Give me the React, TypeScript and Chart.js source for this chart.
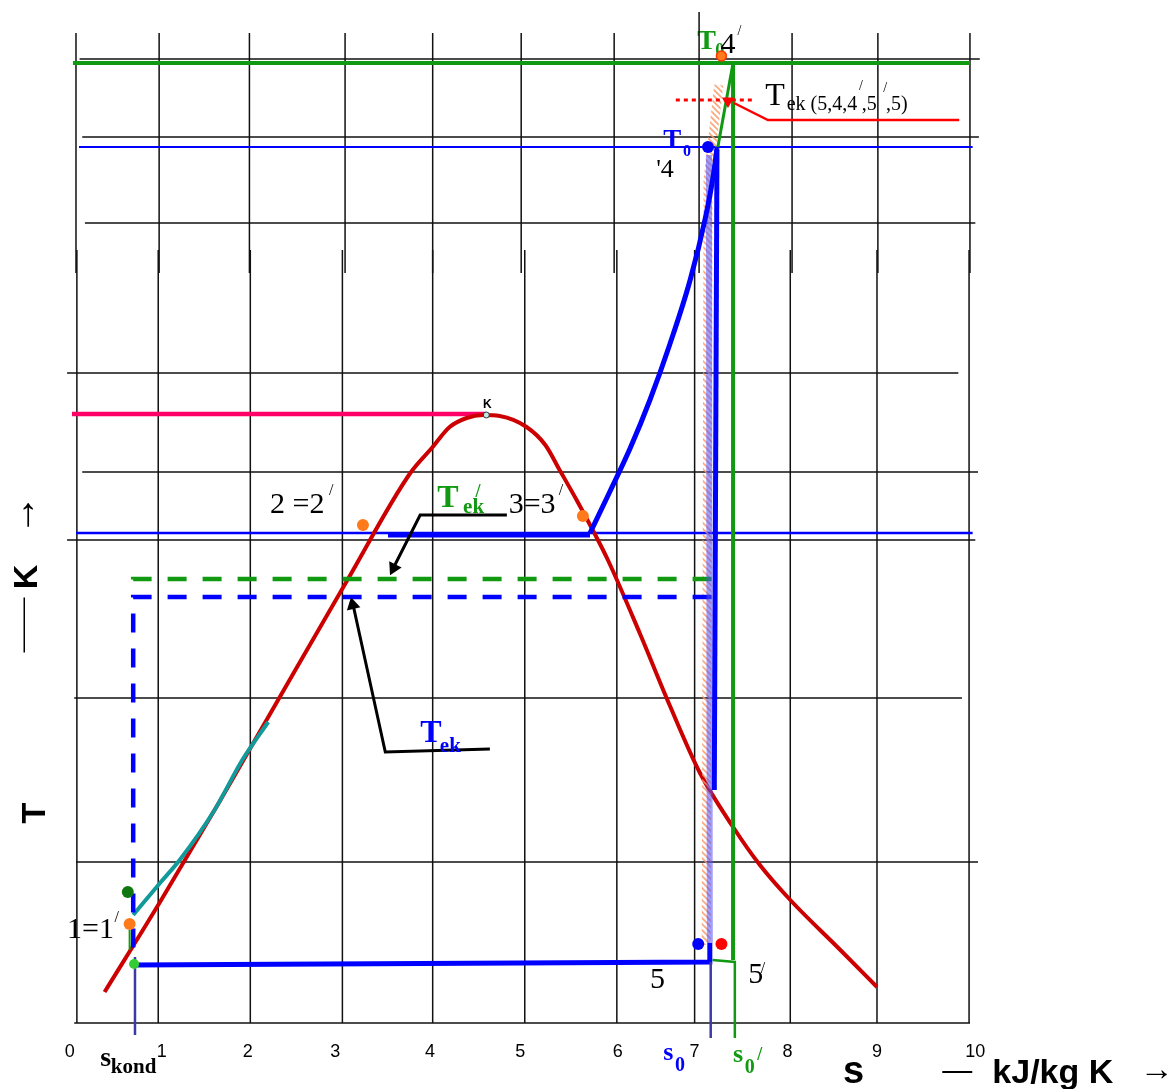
import { useEffect, useRef } from 'react';
import { Chart, registerables } from 'chart.js';

Chart.register(...registerables);

const W = 1172;
const H = 1089;

// Plot window: entropy s (kJ/kg K) across, temperature level T (relative units) up
const S_MIN = -0.85;
const S_MAX = 12.26;
const T_MIN = -6.6;
const T_MAX = 102.3;

const SERIF = '"Liberation Serif", "Times New Roman", serif';
const SANS = '"Liberation Sans", Arial, sans-serif';
const GREEN = '#119a11';
const BLUE = '#0000ff';
const DARK_BLUE = '#3b3ba5';
const RED = '#cc0000';
const PINK = '#ff0066';
const TEAL = '#129a9a';
const ORANGE = '#ff7a1a';
const BLACK = '#111111';

// s-axis labels (hand-placed under the hand-drawn grid)
const sTickLabels = ['0', '1', '2', '3', '4', '5', '6', '7', '8', '9', '10'];
const sTickPos = [-0.07, 0.96, 1.92, 2.9, 3.96, 4.97, 6.06, 6.92, 7.96, 8.96, 10.06];

// hand-drawn grid: vertical lines (upper and lower strokes) and horizontal rows
const gridColUpper = [0, 0.93, 1.94, 3.01, 3.99, 4.98, 6.02, 6.97, 8.01, 8.97, 10.0];
const gridColLower = [0.01, 0.92, 1.95, 2.98, 3.99, 5.02, 6.05, 6.92, 7.99, 8.96, 9.99];
const gridRowT = [96.4, 88.6, 80.0, 65.0, 55.1, 48.3, 32.5, 16.1, 0];
const gridRowFrom = [0.04, 0.07, 0.1, -0.1, 0.07, -0.1, -0.02, 0, -0.02];
const gridRowTo = [10.11, 10.1, 10.06, 9.87, 10.09, 10.06, 9.91, 10.09, 10.0];

// isotherm levels
const T0_PRIME = 96.0;
const T0 = 87.6;
const TK = 49.0;
const T_CRIT = 60.9;

// saturation dome
const domeS = [0.32, 0.94, 1.61, 2.28, 3.03, 3.74, 3.98, 4.18, 4.37, 4.55, 4.74, 5.04, 5.25, 5.41, 5.6, 5.78, 5.95, 6.31, 6.64, 6.98, 7.35, 7.65, 7.99, 8.55, 8.96];
const domeT = [3.1, 12.1, 22.2, 32.6, 44.2, 55.0, 57.5, 59.6, 60.5, 60.8, 60.7, 59.6, 57.8, 55.3, 52.3, 49.3, 46.3, 38.9, 31.8, 25.0, 19.6, 15.8, 12.3, 7.3, 3.6];

// liquid line
const liquidS = [0.64, 0.94, 1.16, 1.55, 1.86, 2.15];
const liquidT = [10.8, 14.0, 16.3, 21.3, 26.3, 30.1];

// evaporation plateau and superheated vapour up to T0
const plateauS = [3.49, 5.75];
const plateauT = [48.8, 48.8];
const vapourS = [5.75, 5.97, 6.2, 6.42, 6.64, 6.87, 7.04, 7.13, 7.17];
const vapourT = [49.0, 53.1, 57.5, 62.3, 67.8, 74.3, 80.5, 84.8, 87.5];

// expansion from T0 down to point 5 and the low isobar back to s_kond
const expansionS = [7.17, 7.14];
const expansionT = [87.3, 23.3];
const expansionFaintS = [7.08, 7.09];
const expansionFaintT = [86.8, 8.0];
const lowIsobarS = [7.09, 7.09, 0.64];
const lowIsobarT = [8.0, 6.1, 5.8];
const bandS = [7.19, 7.07, 7.05];
const bandT = [93.8, 84.3, 7.8];

// primed cycle (green)
const primeVertS = [7.35, 7.35];
const primeVertT = [T0_PRIME, 6.3];
const primeRiseS = [7.18, 7.35];
const primeRiseT = [T0, T0_PRIME];
const primeFootS = [7.12, 7.37, 7.37];
const primeFootT = [6.3, 6.1, -1.5];
const primeStubS = [0.6, 0.6];
const primeStubT = [9.3, 7.3];

// T_ek levels (dashed)
const tekBlueS = [7.11, 0.64, 0.64];
const tekBlueT = [42.6, 42.6, 5.8];
const tekGreenS = [7.11, 0.64, 0.64];
const tekGreenT = [44.4, 44.4, 43.1];

// s_kond and s_0 markers
const sKondS = [0.66, 0.66];
const sKondT = [6.6, -1.2];
const s0S = [7.1, 7.1];
const s0T = [6.1, -1.5];

// leader lines
const tekMixDotS = [6.71, 7.56];
const tekMixDotT = [92.3, 92.3];
const tekMixLeadS = [9.88, 7.74, 7.36];
const tekMixLeadT = [90.3, 90.3, 92.0];
const tekPrimeLeadS = [4.82, 3.85, 3.55];
const tekPrimeLeadT = [50.8, 50.8, 45.5];
const tekLeadS = [4.63, 3.46, 3.1];
const tekLeadT = [27.4, 27.1, 41.8];

const pts = (s: number[], t: number[]) => s.map((v, i) => ({ x: v, y: t[i] }));

type Label = {
  text: string;
  s: number;
  t: number;
  font: string;
  color?: string;
  align?: CanvasTextAlign;
  base?: CanvasTextBaseline;
  rot?: number;
  sx?: number;
  below?: boolean;
};

const LABELS: Label[] = [
  { text: 'T', s: 6.95, t: 97.4, font: `bold 28px ${SERIF}`, color: GREEN, below: true },
  { text: '0', s: 7.15, t: 96.7, font: `bold 18px ${SERIF}`, color: GREEN, below: true },
  { text: '4', s: 7.21, t: 97.0, font: `30px ${SERIF}` },
  { text: '/', s: 7.4, t: 98.8, font: `14px ${SERIF}` },
  { text: 'T', s: 7.71, t: 91.8, font: `32px ${SERIF}` },
  { text: 'ek (5,4,4', s: 7.95, t: 91.3, font: `20px ${SERIF}` },
  { text: '/', s: 8.76, t: 93.3, font: `14px ${SERIF}` },
  { text: ',5', s: 8.79, t: 91.3, font: `20px ${SERIF}` },
  { text: '/', s: 9.03, t: 93.1, font: `14px ${SERIF}` },
  { text: ',5)', s: 9.06, t: 91.3, font: `20px ${SERIF}` },
  { text: 'T', s: 6.57, t: 87.5, font: `bold 27px ${SERIF}`, color: BLUE },
  { text: '0', s: 6.79, t: 86.7, font: `bold 16px ${SERIF}`, color: BLUE },
  { text: "'4", s: 6.49, t: 84.6, font: `26px ${SERIF}` },
  { text: 'K', s: 4.6, t: 61.5, font: `bold 12px ${SANS}`, align: 'center' },
  { text: '2 =2', s: 2.17, t: 51.0, font: `30px ${SERIF}` },
  { text: '/', s: 2.83, t: 52.8, font: `16px ${SERIF}` },
  { text: 'T', s: 4.04, t: 51.6, font: `bold 32px ${SERIF}`, color: GREEN },
  { text: 'ek', s: 4.33, t: 51.0, font: `bold 21px ${SERIF}`, color: GREEN },
  { text: '/', s: 4.47, t: 52.6, font: `bold 18px ${SERIF}`, color: GREEN },
  { text: '3=3', s: 4.84, t: 51.0, font: `30px ${SERIF}` },
  { text: '/', s: 5.4, t: 52.8, font: `16px ${SERIF}` },
  { text: 'T', s: 3.85, t: 28.1, font: `bold 32px ${SERIF}`, color: BLUE },
  { text: 'ek', s: 4.07, t: 27.1, font: `bold 21px ${SERIF}`, color: BLUE },
  { text: '1=1', s: -0.1, t: 8.5, font: `30px ${SERIF}` },
  { text: '/', s: 0.43, t: 10.1, font: `16px ${SERIF}` },
  { text: '5', s: 6.42, t: 3.5, font: `30px ${SERIF}` },
  { text: '5', s: 7.52, t: 4.0, font: `30px ${SERIF}` },
  { text: '/', s: 7.66, t: 5.0, font: `16px ${SERIF}` },
  { text: 's', s: 6.57, t: -3.7, font: `bold 26px ${SERIF}`, color: BLUE },
  { text: '0', s: 6.7, t: -4.8, font: `bold 20px ${SERIF}`, color: BLUE },
  { text: 's', s: 7.35, t: -3.9, font: `bold 26px ${SERIF}`, color: GREEN },
  { text: '0', s: 7.48, t: -5.0, font: `bold 20px ${SERIF}`, color: GREEN },
  { text: '/', s: 7.62, t: -3.7, font: `bold 18px ${SERIF}`, color: GREEN },
  { text: 's', s: 0.27, t: -4.3, font: `bold 28px ${SERIF}` },
  { text: 'kond', s: 0.39, t: -5.0, font: `bold 21px ${SERIF}` },
  { text: 's', s: 8.58, t: -6.0, font: `bold 38px ${SANS}` },
  { text: '—', s: 9.69, t: -5.7, font: `30px ${SANS}` },
  { text: 'kJ/kg K', s: 10.25, t: -6.0, font: `bold 34px ${SANS}` },
  { text: '→', s: 11.9, t: -5.7, font: `34px ${SANS}` },
  { text: 'T', s: -0.347, t: 21.0, font: `bold 34px ${SANS}`, align: 'center', rot: -90 },
  { text: '—', s: -0.58, t: 39.8, font: `22px ${SANS}`, align: 'center', base: 'middle', rot: -90, sx: 2.5 },
  { text: 'K', s: -0.436, t: 44.6, font: `bold 34px ${SANS}`, align: 'center', rot: -90 },
  { text: '→', s: -0.58, t: 50.8, font: `40px ${SANS}`, align: 'center', base: 'middle', rot: -90 },
  ...sTickLabels.map((text, i) => ({
    text,
    s: sTickPos[i],
    t: -3.4,
    font: `18px ${SANS}`,
    align: 'center' as CanvasTextAlign,
  })),
];

function drawLabels(chart: any, below: boolean) {
  const { ctx, scales } = chart;
  const xs = scales.x;
  const ys = scales.y;
  for (const l of LABELS) {
    if (!!l.below !== below) continue;
    ctx.save();
    ctx.font = l.font;
    ctx.fillStyle = l.color || '#000';
    ctx.textAlign = l.align || 'left';
    ctx.textBaseline = l.base || 'alphabetic';
    ctx.translate(xs.getPixelForValue(l.s), ys.getPixelForValue(l.t));
    if (l.rot) ctx.rotate((l.rot * Math.PI) / 180);
    if (l.sx) ctx.scale(l.sx, 1);
    ctx.fillText(l.text, 0, 0);
    ctx.restore();
  }
}

const labelPlugin = {
  id: 'tsLabels',
  beforeDatasetsDraw(chart: any) {
    drawLabels(chart, true);
  },
  afterDatasetsDraw(chart: any) {
    drawLabels(chart, false);
  },
};

function line(data: { x: number; y: number }[], color: any, width: number, extra: any = {}) {
  return {
    data,
    borderColor: color,
    borderWidth: width,
    pointRadius: 0,
    fill: false,
    tension: 0,
    borderCapStyle: 'butt',
    ...extra,
  };
}

function dot(x: number, y: number, color: string, r: number, extra: any = {}) {
  return {
    data: [{ x, y }],
    showLine: false,
    pointRadius: r,
    pointBackgroundColor: color,
    pointBorderColor: color,
    pointBorderWidth: 0,
    ...extra,
  };
}

function makeHatch(): CanvasPattern | string {
  const pc = document.createElement('canvas');
  pc.width = 6;
  pc.height = 6;
  const p = pc.getContext('2d');
  if (!p) return 'rgba(250,160,110,0.6)';
  p.strokeStyle = 'rgba(250,150,100,0.85)';
  p.lineWidth = 1.6;
  p.beginPath();
  p.moveTo(-1, -1);
  p.lineTo(7, 7);
  p.moveTo(-1, 5);
  p.lineTo(1, 7);
  p.moveTo(5, -1);
  p.lineTo(7, 1);
  p.stroke();
  return p.createPattern(pc, 'repeat') || 'rgba(250,160,110,0.6)';
}

export default function App() {
  const ref = useRef<HTMLCanvasElement | null>(null);

  useEffect(() => {
    const canvas = ref.current;
    if (!canvas) return;
    const hatch = makeHatch();
    const datasets: any[] = [];

    // grid
    gridColUpper.forEach((s, i) => {
      const top = i === 7 ? 101.1 : 99.0;
      datasets.push(line(pts([s, s], [top, 75.0]), BLACK, 1.5));
    });
    gridColLower.forEach((s) => {
      datasets.push(line(pts([s, s], [77.3, 0]), BLACK, 1.5));
    });
    gridRowT.forEach((t, i) => {
      datasets.push(line(pts([gridRowFrom[i], gridRowTo[i]], [t, t]), BLACK, 1.5));
    });

    // isotherms
    datasets.push(line(pts([-0.034, 10.0], [T0_PRIME, T0_PRIME]), GREEN, 4));
    datasets.push(line(pts([0.034, 10.03], [T0, T0]), BLUE, 2));
    datasets.push(line(pts([0, 10.03], [TK, TK]), BLUE, 2.5));
    datasets.push(line(pts([-0.045, 4.586], [T_CRIT, T_CRIT]), PINK, 4.5));

    // saturation dome and liquid line
    datasets.push(line(pts(domeS, domeT), RED, 4, { cubicInterpolationMode: 'monotone' }));
    datasets.push(line(pts(liquidS, liquidT), TEAL, 4, { cubicInterpolationMode: 'monotone' }));

    // hatched expansion band
    datasets.push(line(pts(bandS, bandT), hatch, 9));

    // T_ek levels
    datasets.push(line(pts(tekBlueS, tekBlueT), BLUE, 4.5, { borderDash: [19, 16] }));
    datasets.push(line(pts(tekGreenS, tekGreenT), GREEN, 4.5, { borderDash: [19, 16] }));

    // primed cycle
    datasets.push(line(pts(primeVertS, primeVertT), GREEN, 4));
    datasets.push(line(pts(primeRiseS, primeRiseT), GREEN, 3));
    datasets.push(line(pts(primeFootS, primeFootT), GREEN, 2.5));
    datasets.push(line(pts(primeStubS, primeStubT), GREEN, 2));

    // main cycle
    datasets.push(line(pts(expansionFaintS, expansionFaintT), 'rgba(80,80,255,0.55)', 6));
    datasets.push(line(pts(plateauS, plateauT), BLUE, 5));
    datasets.push(line(pts(vapourS, vapourT), BLUE, 5, { cubicInterpolationMode: 'monotone' }));
    datasets.push(line(pts(expansionS, expansionT), BLUE, 5));
    datasets.push(line(pts(lowIsobarS, lowIsobarT), BLUE, 5));
    datasets.push(line(pts(sKondS, sKondT), DARK_BLUE, 2.5));
    datasets.push(line(pts(s0S, s0T), DARK_BLUE, 2.5));

    // leader lines
    datasets.push(line(pts(tekMixDotS, tekMixDotT), '#ff0000', 3, { borderDash: [4, 4] }));
    datasets.push(line(pts(tekMixLeadS, tekMixLeadT), '#ff0000', 2.5));
    datasets.push(line(pts(tekPrimeLeadS, tekPrimeLeadT), '#000', 3));
    datasets.push(line(pts(tekLeadS, tekLeadT), '#000', 3));

    // arrow heads
    datasets.push(dot(7.293, 92.2, '#ff0000', 7, { pointStyle: 'triangle', rotation: 180 }));
    datasets.push(dot(3.553, 45.5, '#000', 8, { pointStyle: 'triangle', rotation: -153.4 }));
    datasets.push(dot(3.096, 41.8, '#000', 8, { pointStyle: 'triangle', rotation: -12.8 }));

    // state points
    datasets.push(dot(7.22, 96.7, ORANGE, 5, { pointBorderColor: '#ff3300', pointBorderWidth: 1.5 }));
    datasets.push(dot(7.07, 87.6, BLUE, 6));
    datasets.push(dot(3.21, 49.8, ORANGE, 6));
    datasets.push(dot(5.67, 50.7, ORANGE, 6));
    datasets.push(dot(4.59, 60.8, '#c4e8e8', 3, { pointBorderColor: '#333', pointBorderWidth: 1 }));
    datasets.push(dot(0.58, 13.1, '#117711', 6));
    datasets.push(dot(0.6, 9.9, ORANGE, 6));
    datasets.push(dot(0.65, 5.9, '#33cc33', 5));
    datasets.push(dot(6.96, 7.9, BLUE, 6));
    datasets.push(dot(7.22, 7.9, '#ff0000', 6));

    datasets.forEach((d, i) => {
      d.order = -i;
    });

    const chart = new Chart(canvas, {
      type: 'line',
      data: { datasets },
      options: {
        responsive: false,
        animation: false,
        events: [],
        layout: { padding: 0, autoPadding: false },
        plugins: { legend: { display: false }, tooltip: { enabled: false } },
        scales: {
          x: { type: 'linear', min: S_MIN, max: S_MAX, display: false },
          y: { type: 'linear', min: T_MIN, max: T_MAX, display: false },
        },
      },
      plugins: [labelPlugin],
    } as any);

    return () => chart.destroy();
  }, []);

  return (
    <div style={{ position: 'absolute', left: 0, top: 0, width: W, height: H, background: '#fff' }}>
      <canvas ref={ref} width={W} height={H} style={{ display: 'block' }} />
    </div>
  );
}
